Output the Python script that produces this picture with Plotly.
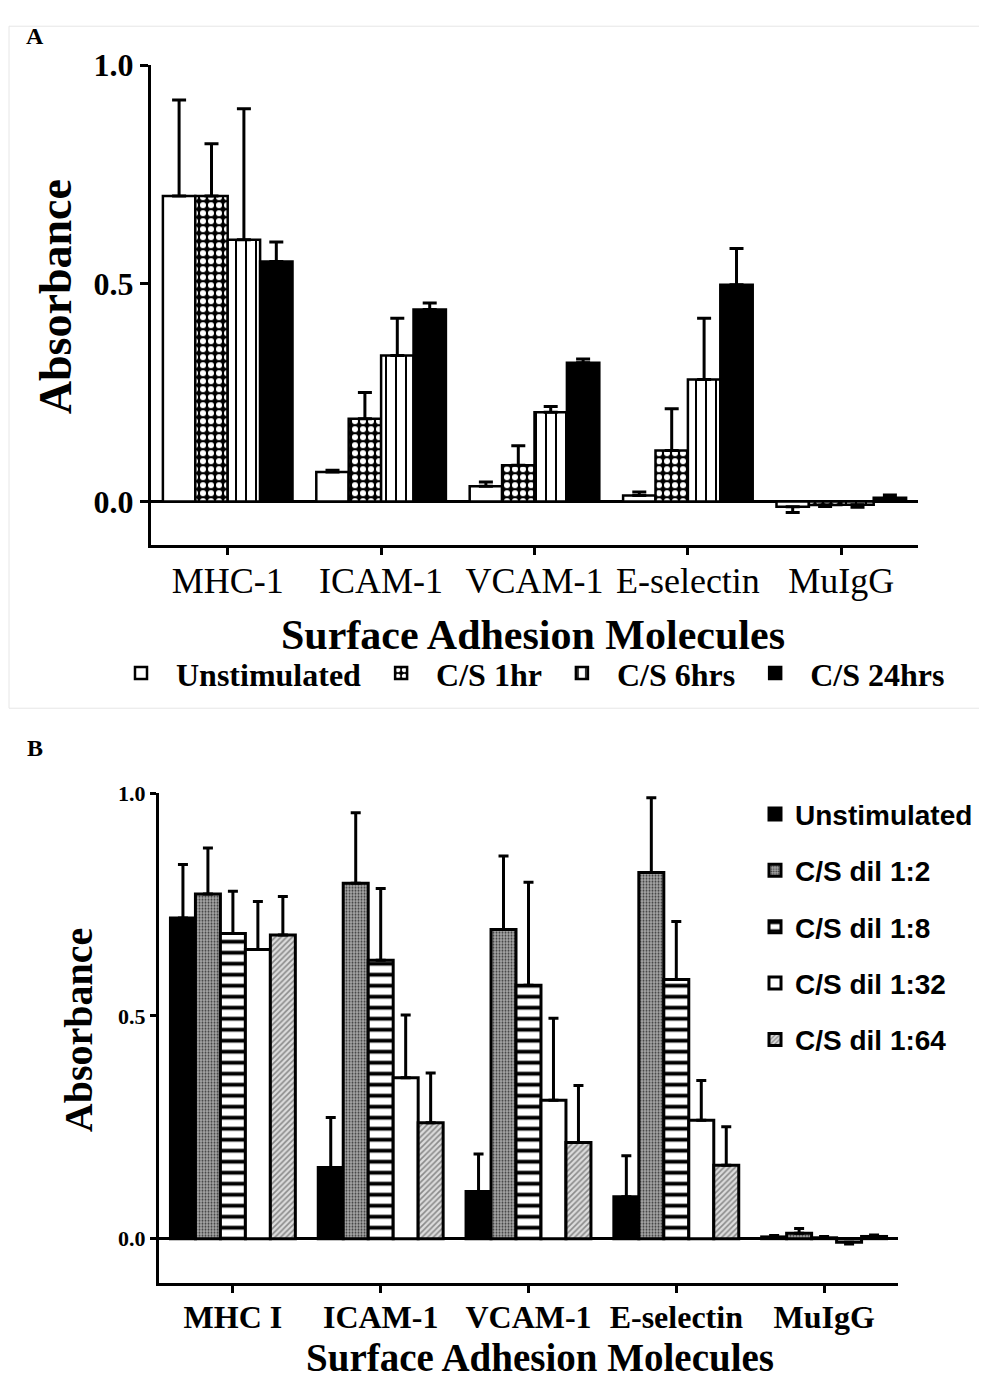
import plotly.graph_objects as go

# figure is drawn inside the page body (8 px default margin)
W, H = 971, 1376
OX, OY = 8, 8

# ---------------- Panel A data ----------------
cats_a = ["MHC-1", "ICAM-1", "VCAM-1", "E-selectin", "MuIgG"]
series_a = ["Unstimulated", "C/S 1hr", "C/S 6hrs", "C/S 24hrs"]
unstim_a = [0.70, 0.068, 0.035, 0.014, -0.012]
unstim_a_err = [0.22, 0.004, 0.010, 0.008, 0.013]
cs1_a = [0.70, 0.19, 0.083, 0.117, -0.008]
cs1_a_err = [0.12, 0.06, 0.045, 0.096, 0.003]
cs6_a = [0.60, 0.335, 0.205, 0.28, -0.007]
cs6_a_err = [0.30, 0.085, 0.013, 0.14, 0.006]
cs24_a = [0.55, 0.44, 0.318, 0.497, 0.009]
cs24_a_err = [0.045, 0.015, 0.009, 0.083, 0.006]
ticks_a = [0.0, 0.5, 1.0]
ticklabels_a = ["0.0", "0.5", "1.0"]

# ---------------- Panel B data ----------------
cats_b = ["MHC I", "ICAM-1", "VCAM-1", "E-selectin", "MuIgG"]
series_b = ["Unstimulated", "C/S dil 1:2", "C/S dil 1:8", "C/S dil 1:32", "C/S dil 1:64"]
unstim_b = [0.72, 0.16, 0.106, 0.094, 0.004]
unstim_b_err = [0.12, 0.112, 0.084, 0.092, 0.003]
d2_b = [0.774, 0.798, 0.694, 0.822, 0.012]
d2_b_err = [0.103, 0.158, 0.165, 0.168, 0.011]
d8_b = [0.685, 0.625, 0.569, 0.582, 0.002]
d8_b_err = [0.095, 0.161, 0.231, 0.13, 0.003]
d32_b = [0.649, 0.361, 0.311, 0.266, -0.008]
d32_b_err = [0.108, 0.141, 0.184, 0.089, 0.004]
d64_b = [0.682, 0.26, 0.216, 0.165, 0.005]
d64_b_err = [0.086, 0.112, 0.128, 0.086, 0.003]
ticks_b = [0.0, 0.5, 1.0]
ticklabels_b = ["0.0", "0.5", "1.0"]

SERIF = "Liberation Serif, Times New Roman, serif"
SANS = "Liberation Sans, Arial, sans-serif"


def err(vals, errs, thick, capw):
    up = [e if v >= 0 else 0 for v, e in zip(vals, errs)]
    dn = [0 if v >= 0 else e for v, e in zip(vals, errs)]
    return dict(type="data", symmetric=False, array=up, arrayminus=dn,
                color="black", thickness=thick, width=capw)


fig = go.Figure()

styles_a = [
    dict(color="white", pattern=dict(shape="")),
    dict(color="black", pattern=dict(shape=".", fgcolor="white", bgcolor="black",
                                     size=8, solidity=0.45, fillmode="replace")),
    dict(color="white", pattern=dict(shape="|", fgcolor="black", bgcolor="white",
                                     size=10, solidity=0.2, fillmode="replace")),
    dict(color="black", pattern=dict(shape="")),
]
vals_a = [(unstim_a, unstim_a_err), (cs1_a, cs1_a_err), (cs6_a, cs6_a_err), (cs24_a, cs24_a_err)]
for name, (v, e), st in zip(series_a, vals_a, styles_a):
    fig.add_trace(go.Bar(
        x=cats_a, y=v, name=name, xaxis="x", yaxis="y", legend="legend",
        marker=dict(color=st["color"], pattern=st["pattern"],
                    line=dict(color="black", width=2.5)),
        error_y=err(v, e, 3, 7),
    ))

styles_b = [
    dict(color="black", pattern=dict(shape="")),
    dict(color="#8c8c8c", pattern=dict(shape=".", fgcolor="#3a3a3a", bgcolor="#a8a8a8",
                                       size=3, solidity=0.35, fillmode="replace")),
    dict(color="white", pattern=dict(shape="-", fgcolor="black", bgcolor="white",
                                     size=11, solidity=0.35, fillmode="replace")),
    dict(color="white", pattern=dict(shape="")),
    dict(color="#c8c8c8", pattern=dict(shape="/", fgcolor="#8a8a8a", bgcolor="#dcdcdc",
                                       size=4, solidity=0.4, fillmode="replace")),
]
vals_b = [(unstim_b, unstim_b_err), (d2_b, d2_b_err), (d8_b, d8_b_err),
          (d32_b, d32_b_err), (d64_b, d64_b_err)]
for name, (v, e), st in zip(series_b, vals_b, styles_b):
    fig.add_trace(go.Bar(
        x=cats_b, y=v, name=name, xaxis="x2", yaxis="y2", legend="legend2",
        legendgroup=name,
        marker=dict(color=st["color"], pattern=st["pattern"],
                    line=dict(color="black", width=3)),
        error_y=err(v, e, 3, 5),
    ))


def px_x(p):
    return (p - OX) / W


def py(t):
    # target picture row -> paper fraction (empirical page offset/scale)
    p = (t - 17.9) / 0.9869
    return 1 - (p - OY) / H


axis_common = dict(showline=True, linecolor="black", linewidth=3, mirror=False,
                   showgrid=False, ticks="outside", tickcolor="black", tickwidth=2.5)

fig.update_layout(
    width=W, height=H,
    margin=dict(l=0, r=0, t=0, b=0),
    paper_bgcolor="white", plot_bgcolor="white",
    barmode="group", bargap=0.155, bargroupgap=0.0,
    xaxis=dict(domain=[px_x(151), px_x(918)], anchor="y", type="category",
               ticklen=7, tickfont=dict(family=SERIF, size=36, color="black"),
               ticklabelstandoff=-5, zeroline=False, **axis_common),
    yaxis=dict(domain=[py(545), py(65)], anchor="x", range=[-0.1, 1.0],
               tickvals=ticks_a, ticktext=ticklabels_a, ticklen=8,
               tickfont=dict(family=SERIF, size=32, color="black", weight="bold"),
               zeroline=True, zerolinecolor="black", zerolinewidth=2.5, **axis_common),
    xaxis2=dict(domain=[px_x(159), px_x(898)], anchor="y2", type="category",
                ticklen=7, tickfont=dict(family=SERIF, size=32, color="black", weight="bold"),
                ticklabelstandoff=-4, zeroline=False, **axis_common),
    yaxis2=dict(domain=[py(1283), py(793)], anchor="x2", range=[-0.1, 1.0],
                tickvals=ticks_b, ticktext=ticklabels_b, ticklen=6,
                tickfont=dict(family=SERIF, size=22, color="black", weight="bold"),
                zeroline=True, zerolinecolor="black", zerolinewidth=3, **axis_common),
    legend=dict(orientation="h", x=px_x(106), xanchor="left", y=py(673), yanchor="middle",
                font=dict(family=SERIF, size=32, color="black", weight="bold"),
                bgcolor="rgba(0,0,0,0)", itemwidth=60, traceorder="normal"),
    legend2=dict(orientation="v", x=px_x(755), xanchor="left", y=py(789), yanchor="top",
                 font=dict(family=SANS, size=28, color="black", weight="bold"),
                 bgcolor="rgba(0,0,0,0)", itemwidth=30, tracegroupgap=17,
                 traceorder="grouped"),
    showlegend=True,
)


def ann(text, x, y, size, family=SERIF, angle=0, weight="bold"):
    return dict(text=text, x=px_x(x), y=py(y), xref="paper", yref="paper",
                xanchor="center", yanchor="middle", textangle=angle, showarrow=False,
                borderpad=0,
                font=dict(family=family, size=size, color="black", weight=weight))


annotations = [
    ann("A", 35, 36, 24),
    ann("B", 35, 748, 24),
    ann("Absorbance", 55, 297, 46, angle=-90),
    ann("Surface Adhesion Molecules", 533, 635, 42),
    ann("Absorbance", 78, 1030, 40, angle=-90),
    ann("Surface Adhesion Molecules", 540, 1357, 39),
]
fig.update_layout(annotations=annotations)

fig.add_shape(type="rect", xref="paper", yref="paper",
              x0=px_x(9), x1=px_x(986), y0=py(708), y1=py(26),
              line=dict(color="#e6e6e6", width=1), layer="below")

fig.write_html("out.html")
